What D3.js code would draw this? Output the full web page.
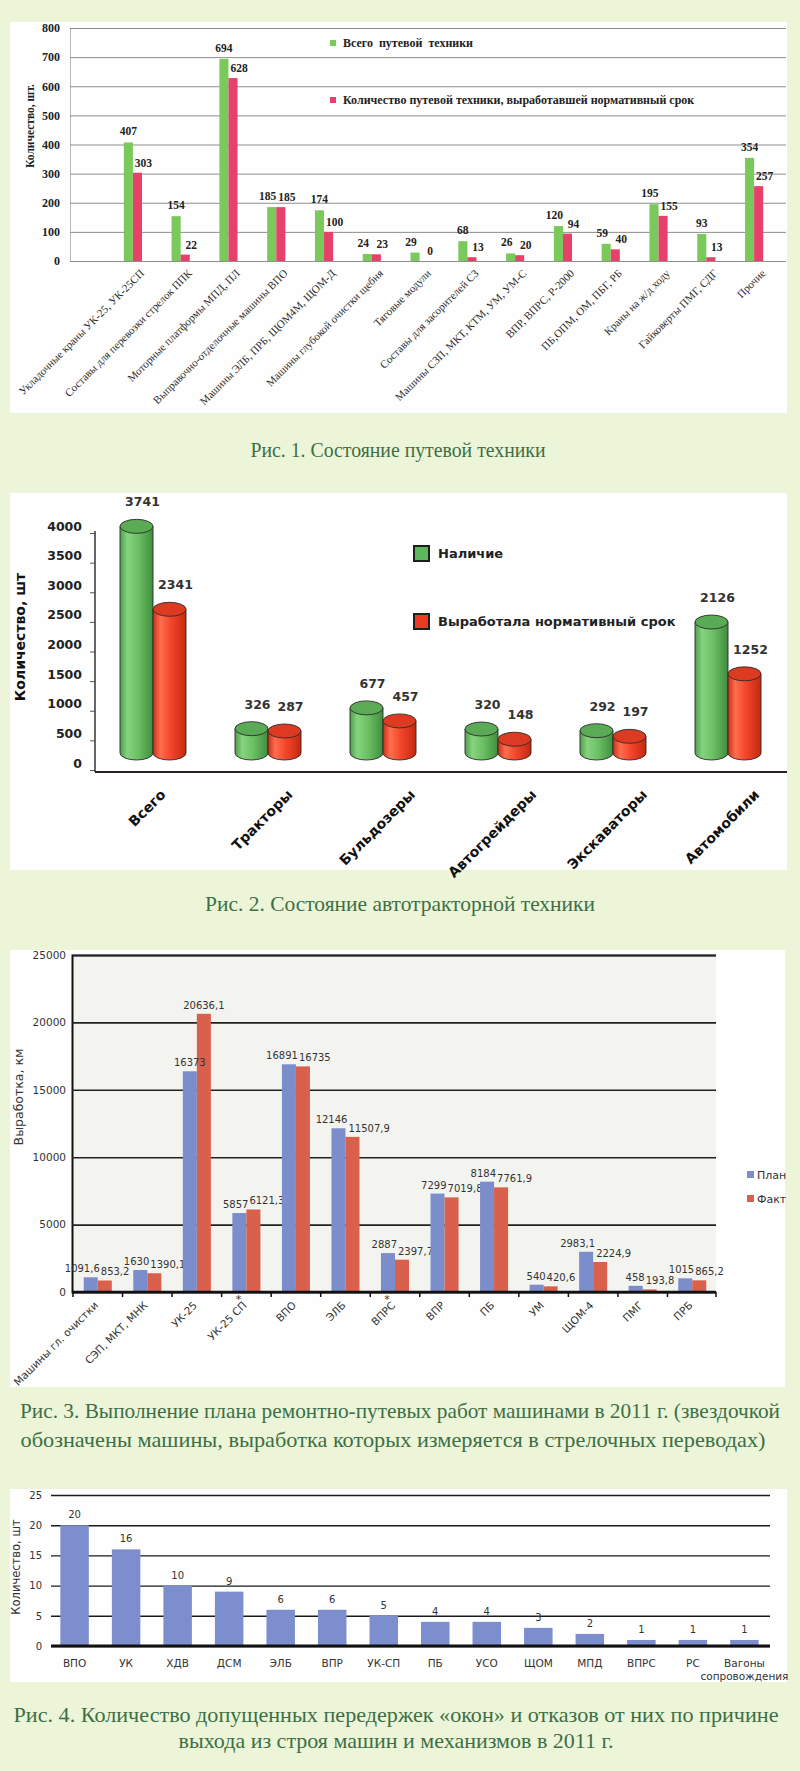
<!DOCTYPE html>
<html>
<head>
<meta charset="utf-8">
<script src="https://cdn.jsdelivr.net/npm/d3@7/dist/d3.min.js"></script>
<style>
    body {margin: 0; background: #edf5d9;}
    svg {display: block;}
</style>
</head>
<body>
<svg id="mainSvg" width="800" height="1771"></svg>
<script>
// ---------- Рис. 1 ----------
var fig1Categories = ["Укладочные краны УК-25, УК-25СП", "Составы для перевозки стрелок ППК", "Моторные платформы МПД, ПЛ",
    "Выправочно-отделочные машины ВПО", "Машины ЭЛБ, ПРБ, ЩОМ4М, ЩОМ-Д", "Машины глубокой очистки щебня", "Тяговые модули",
    "Составы для засорителей СЗ", "Машины СЗП, МКТ, КТМ, УМ, УМ-С", "ВПР, ВПРС, Р-2000", "ПБ,ОПМ, ОМ, ПБГ, РБ",
    "Краны на ж/д ходу", "Гайковерты ПМГ, СДГ", "Прочие"];
var fig1Total   = [407, 154, 694, 185, 174, 24, 29, 68, 26, 120, 59, 195, 93, 354];
var fig1Expired = [303, 22, 628, 185, 100, 23, 0, 13, 20, 94, 40, 155, 13, 257];
var fig1Ticks = [0, 100, 200, 300, 400, 500, 600, 700, 800];
var fig1Legend = ["Всего  путевой  техники", "Количество путевой техники, выработавшей нормативный срок"];

// ---------- Рис. 2 ----------
var fig2Categories = ["Всего", "Тракторы", "Бульдозеры", "Автогрейдеры", "Экскаваторы", "Автомобили"];
var fig2Available = [3741, 326, 677, 320, 292, 2126];
var fig2Expired   = [2341, 287, 457, 148, 197, 1252];
var fig2Ticks = [0, 500, 1000, 1500, 2000, 2500, 3000, 3500, 4000];
var fig2Legend = ["Наличие", "Выработала нормативный срок"];

// ---------- Рис. 3 ----------
var fig3Categories = ["Машины гл. очистки", "СЭП, МКТ, МНК", "УК-25", "УК-25 СП", "ВПО", "ЭЛБ", "ВПРС", "ВПР", "ПБ", "УМ", "ЩОМ-4", "ПМГ", "ПРБ"];
var fig3Starred = ["УК-25 СП", "ВПРС"];     // выработка в стрелочных переводах
var fig3Plan = [1091.6, 1630, 16373, 5857, 16891, 12146, 2887, 7299, 8184, 540, 2983.1, 458, 1015];
var fig3Fact = [853.2, 1390.1, 20636.1, 6121.3, 16735, 11507.9, 2397.7, 7019.8, 7761.9, 420.6, 2224.9, 193.8, 865.2];
var fig3Ticks = [0, 5000, 10000, 15000, 20000, 25000];
var fig3Legend = ["План", "Факт"];

// ---------- Рис. 4 ----------
var fig4Categories = ["ВПО", "УК", "ХДВ", "ДСМ", "ЭЛБ", "ВПР", "УК-СП", "ПБ", "УСО", "ЩОМ", "МПД", "ВПРС", "РС", "Вагоны сопровождения"];
var fig4Values = [20, 16, 10, 9, 6, 6, 5, 4, 4, 3, 2, 1, 1, 1];
var fig4Ticks = [0, 5, 10, 15, 20, 25];

var captionColor = "#3c6f45";
var serifFont = "'Liberation Serif', 'Times New Roman', serif";
var sansFont = "'DejaVu Sans', Verdana, sans-serif";

window.addEventListener("load", drawAll);

function drawAll()
{
    const svg = d3.select("#mainSvg");
    drawFig1(svg);
    drawFig2(svg);
    drawFig3(svg);
    drawFig4(svg);
    drawCaptions(svg);
}

/* white panel behind each chart */
function panel(svg, x, y, w, h)
{
    return svg.append("rect").attr("x", x).attr("y", y).attr("width", w).attr("height", h).attr("fill", "#fefefe");
}

function drawFig1(svg)
{
    panel(svg, 10, 22, 777, 391);
    const g = svg.append("g").attr("font-family", serifFont);
    const left = 70, right = 786;
    const yScale = d3.scaleLinear().domain([0, 800]).range([261, 28]);
    const xScale = d3.scaleBand().domain(fig1Categories).range([109, 778]).paddingInner(0.62).paddingOuter(0.31);
    const bw = xScale.bandwidth() / 2;

    const yAxisGroup = g.append("g").attr("transform", `translate(${left},0)`)
        .call(d3.axisLeft(yScale).tickValues(fig1Ticks).tickSize(-(right - left)).tickPadding(10));
    yAxisGroup.select(".domain").attr("stroke", "#b8b8b8");
    yAxisGroup.selectAll(".tick line").attr("stroke", "#8e8e8e").attr("stroke-width", 1);
    yAxisGroup.selectAll(".tick text").attr("font-family", serifFont).attr("font-size", 12)
        .attr("font-weight", "bold").attr("fill", "#222");

    g.append("text").text("Количество, шт.")
        .attr("transform", `translate(34,126) rotate(-90)`)
        .attr("text-anchor", "middle").attr("font-size", 11.5).attr("font-weight", "bold").attr("fill", "#222");

    const groups = g.selectAll(".grp").data(fig1Categories).join("g").attr("class", "grp");
    groups.append("rect")
        .attr("x", d => xScale(d)).attr("width", bw)
        .attr("y", (d, i) => yScale(fig1Total[i])).attr("height", (d, i) => yScale(0) - yScale(fig1Total[i]))
        .attr("fill", "#7ac95b");
    groups.append("rect")
        .attr("x", d => xScale(d) + bw).attr("width", bw)
        .attr("y", (d, i) => yScale(fig1Expired[i])).attr("height", (d, i) => yScale(0) - yScale(fig1Expired[i]))
        .attr("fill", "#e5416a");
    // labels of bars of nearly equal height are pushed apart
    const near = i => Math.abs(yScale(fig1Total[i]) - yScale(fig1Expired[i])) < 12;
    groups.append("text").text((d, i) => fig1Total[i])
        .attr("x", (d, i) => xScale(d) + bw / 2 - (near(i) ? 4 : 0)).attr("y", (d, i) => yScale(fig1Total[i]) - 7)
        .attr("text-anchor", "middle").attr("font-size", 11.5).attr("font-weight", "bold").attr("fill", "#222");
    groups.append("text").text((d, i) => fig1Expired[i])
        .attr("x", d => xScale(d) + bw * 1.5 + 6).attr("y", (d, i) => yScale(fig1Expired[i]) - 6)
        .attr("text-anchor", "middle").attr("font-size", 11.5).attr("font-weight", "bold").attr("fill", "#222");
    // category labels
    groups.append("text").text(d => d)
        .attr("transform", d => `translate(${xScale(d) + bw + 12},274) rotate(-45)`)
        .attr("text-anchor", "end").attr("font-size", 11).attr("fill", "#2a2a2a");

    // legend
    const colors = ["#7ac95b", "#e5416a"];
    const legend = g.selectAll(".leg").data(fig1Legend).join("g").attr("class", "leg")
        .attr("transform", (d, i) => `translate(330,${40 + i * 57})`);
    legend.append("rect").attr("width", 6).attr("height", 6).attr("fill", (d, i) => colors[i]);
    legend.append("text").text(d => d).attr("x", 13).attr("y", 7)
        .attr("font-size", 12).attr("font-weight", "bold").attr("fill", "#222").style("white-space", "pre");
}

function drawFig2(svg)
{
    panel(svg, 10, 493, 777, 377);
    const g = svg.append("g").attr("font-family", sansFont);
    const defs = svg.append("defs");
    function gradient(id, stops)
    {
        const gr = defs.append("linearGradient").attr("id", id).attr("x1", 0).attr("x2", 1).attr("y1", 0).attr("y2", 0);
        stops.forEach(s => gr.append("stop").attr("offset", s[0]).attr("stop-color", s[1]));
    }
    gradient("greenBody", [[0, "#4e9e4c"], [0.22, "#86d37f"], [0.55, "#6cc064"], [1, "#3f8d3d"]]);
    gradient("redBody", [[0, "#cc2e18"], [0.22, "#ff6e4e"], [0.55, "#f2452b"], [1, "#c3280f"]]);

    const yScale = d3.scaleLinear().domain([0, 4000]).range([763, 526]);
    const xScale = d3.scaleBand().domain(fig2Categories).range([95.5, 785.5]).paddingInner(0.426).paddingOuter(0.213);
    const cw = xScale.bandwidth() / 2, rx = cw / 2, ry = 7;
    const base = yScale(0) - 10;

    const yAxisGroup = g.append("g").attr("transform", "translate(95,0)")
        .call(d3.axisLeft(yScale).tickValues(fig2Ticks).tickFormat(d3.format("d")).tickSize(0).tickPadding(13));
    yAxisGroup.select(".domain").remove();
    yAxisGroup.selectAll(".tick text").attr("font-family", sansFont).attr("font-size", 12.5)
        .attr("font-weight", "bold").attr("fill", "#222");
    yAxisGroup.selectAll(".tick").append("line").attr("x1", -5).attr("x2", 0).attr("y1", 7).attr("y2", 7)
        .attr("stroke", "#555");
    g.append("line").attr("x1", 95).attr("x2", 95).attr("y1", 531).attr("y2", 772).attr("stroke", "#333").attr("stroke-width", 1.5);
    g.append("line").attr("x1", 95).attr("x2", 787).attr("y1", 772).attr("y2", 772).attr("stroke", "#2a2222").attr("stroke-width", 2);

    g.append("text").text("Количество, шт")
        .attr("transform", "translate(25,637) rotate(-90)")
        .attr("text-anchor", "middle").attr("font-size", 14).attr("font-weight", "bold").attr("fill", "#111");

    /* one cylinder */
    function cylinder(cx, value, body, top)
    {
        const yt = yScale(value) - 15;
        g.append("path")
            .attr("d", `M${cx - rx},${yt} L${cx - rx},${base} A${rx},${ry} 0 0 0 ${cx + rx},${base} L${cx + rx},${yt} Z`)
            .attr("fill", body).attr("stroke", "#2b2b2b").attr("stroke-width", 0.9);
        g.append("ellipse").attr("cx", cx).attr("cy", yt).attr("rx", rx).attr("ry", ry)
            .attr("fill", top).attr("stroke", "#2b2b2b").attr("stroke-width", 0.9);
        g.append("text").text(value).attr("x", cx + 6).attr("y", yt - ry - 13)
            .attr("text-anchor", "middle").attr("font-size", 12.5).attr("font-weight", "bold").attr("fill", "#333");
    }
    fig2Categories.forEach((c, i) => {
        cylinder(xScale(c) + rx, fig2Available[i], "url(#greenBody)", "#5aaa56");
        cylinder(xScale(c) + cw + rx, fig2Expired[i], "url(#redBody)", "#dd3a22");
    });

    // category labels: bounding box top fixed, centred on the group
    fig2Categories.forEach(c => {
        const t = g.append("text").text(c).attr("text-anchor", "middle")
            .attr("font-size", 14).attr("font-weight", "bold").attr("fill", "#111");
        const len = t.node().getComputedTextLength();
        const half = (len * 0.707 + 14 * 0.707) / 2;
        t.attr("transform", `translate(${xScale(c) + cw - 6},${787 + half}) rotate(-45) translate(0,5)`);
    });

    // legend
    const colors = ["#5cb85a", "#ee3a22"];
    const legend = g.selectAll(".leg2").data(fig2Legend).join("g").attr("class", "leg2")
        .attr("transform", (d, i) => `translate(414,${546 + i * 68})`);
    legend.append("rect").attr("width", 15).attr("height", 15).attr("fill", (d, i) => colors[i])
        .attr("stroke", "#1e1e1e").attr("stroke-width", 2);
    legend.append("text").text(d => d).attr("x", 24).attr("y", 12)
        .attr("font-size", 13).attr("font-weight", "bold").attr("fill", "#222");
}

function drawFig3(svg)
{
    panel(svg, 10, 950, 775, 437);
    const g = svg.append("g").attr("font-family", sansFont);
    const left = 72, right = 716;
    const yScale = d3.scaleLinear().domain([0, 25000]).range([1292, 955]);
    const xScale = d3.scaleBand().domain(fig3Categories).range([73, 717]).paddingInner(0.434).paddingOuter(0.217);
    const bw = xScale.bandwidth() / 2;
    const fmt = v => String(v).replace(".", ",");

    g.append("rect").attr("x", left).attr("y", yScale(25000)).attr("width", right - left)
        .attr("height", yScale(0) - yScale(25000)).attr("fill", "#f3f3f0");
    const yAxisGroup = g.append("g").attr("transform", `translate(${left},0)`)
        .call(d3.axisLeft(yScale).tickValues(fig3Ticks).tickFormat(d3.format("d")).tickSize(-(right - left)).tickPadding(6));
    yAxisGroup.select(".domain").attr("stroke", "#111").attr("stroke-width", 2);
    yAxisGroup.selectAll(".tick line").attr("stroke", "#222").attr("stroke-width", 1.6);
    yAxisGroup.selectAll(".tick text").attr("font-family", sansFont).attr("font-size", 10.5).attr("fill", "#333");

    g.append("text").text("Выработка, км")
        .attr("transform", "translate(23,1097) rotate(-90)")
        .attr("text-anchor", "middle").attr("font-size", 12.5).attr("fill", "#333");

    const groups = g.selectAll(".grp3").data(fig3Categories).join("g").attr("class", "grp3");
    groups.append("rect")
        .attr("x", d => xScale(d)).attr("width", bw)
        .attr("y", (d, i) => yScale(fig3Plan[i])).attr("height", (d, i) => yScale(0) - yScale(fig3Plan[i]))
        .attr("fill", "#7b8dcb");
    groups.append("rect")
        .attr("x", d => xScale(d) + bw).attr("width", bw)
        .attr("y", (d, i) => yScale(fig3Fact[i])).attr("height", (d, i) => yScale(0) - yScale(fig3Fact[i]))
        .attr("fill", "#d8604c");
    // value labels: side by side when the bars are of similar height
    const near = i => Math.abs(yScale(fig3Plan[i]) - yScale(fig3Fact[i])) < 13;
    groups.append("text").text((d, i) => fmt(fig3Plan[i]))
        .attr("x", (d, i) => near(i) ? xScale(d) + bw + 2 : xScale(d) + bw / 2)
        .attr("text-anchor", (d, i) => near(i) ? "end" : "middle")
        .attr("y", (d, i) => yScale(fig3Plan[i]) - 5)
        .attr("font-size", 10).attr("fill", "#333");
    groups.append("text").text((d, i) => fmt(fig3Fact[i]))
        .attr("x", (d, i) => near(i) ? xScale(d) + bw + 3 : xScale(d) + bw * 1.5)
        .attr("text-anchor", (d, i) => near(i) ? "start" : "middle")
        .attr("y", (d, i) => yScale(fig3Fact[i]) - 5)
        .attr("font-size", 10).attr("fill", "#333");

    // x axis with ticks between categories
    g.append("line").attr("x1", left).attr("x2", right).attr("y1", yScale(0)).attr("y2", yScale(0))
        .attr("stroke", "#111").attr("stroke-width", 2.5);
    const gap = (xScale.step() - xScale.bandwidth()) / 2;
    const bounds = fig3Categories.map(c => xScale(c) - gap).concat([right]);
    g.selectAll(".xt3").data(bounds).join("line").attr("class", "xt3")
        .attr("x1", d => d).attr("x2", d => d).attr("y1", yScale(0)).attr("y2", yScale(0) + 5)
        .attr("stroke", "#111").attr("stroke-width", 1.5);
    groups.append("text").text(d => d)
        .attr("transform", d => `translate(${xScale(d) + bw + 1},1306) rotate(-45)`)
        .attr("text-anchor", "end").attr("font-size", 10.5).attr("fill", "#333");
    groups.filter(d => fig3Starred.includes(d)).append("text").text("*")
        .attr("x", d => xScale(d) + bw - 8).attr("y", 1303)
        .attr("text-anchor", "middle").attr("font-size", 11).attr("fill", "#333");

    // legend
    const colors = ["#7b8dcb", "#d8604c"];
    const legend = g.selectAll(".leg3").data(fig3Legend).join("g").attr("class", "leg3")
        .attr("transform", (d, i) => `translate(747,${1171 + i * 24})`);
    legend.append("rect").attr("width", 7).attr("height", 7).attr("fill", (d, i) => colors[i]);
    legend.append("text").text(d => d).attr("x", 10).attr("y", 7.5).attr("font-size", 11).attr("fill", "#333");
}

function drawFig4(svg)
{
    panel(svg, 10, 1489, 777, 193);
    const g = svg.append("g").attr("font-family", sansFont);
    const left = 51, right = 770;
    const yScale = d3.scaleLinear().domain([0, 25]).range([1646, 1495]);
    const xScale = d3.scaleBand().domain(fig4Categories).range([49, 770]).paddingInner(0.447).paddingOuter(0.22);

    const yAxisGroup = g.append("g").attr("transform", `translate(${left},0)`)
        .call(d3.axisLeft(yScale).tickValues(fig4Ticks).tickSize(-(right - left)).tickPadding(9));
    yAxisGroup.select(".domain").remove();
    yAxisGroup.selectAll(".tick line").attr("stroke", "#1a1a1a").attr("stroke-width", 1.4);
    yAxisGroup.selectAll(".tick text").attr("font-family", sansFont).attr("font-size", 10).attr("fill", "#333");

    g.append("text").text("Количество, шт")
        .attr("transform", "translate(20,1567) rotate(-90)")
        .attr("text-anchor", "middle").attr("font-size", 11.5).attr("fill", "#333");

    const groups = g.selectAll(".grp4").data(fig4Categories).join("g").attr("class", "grp4");
    groups.append("rect")
        .attr("x", d => xScale(d)).attr("width", xScale.bandwidth())
        .attr("y", (d, i) => yScale(fig4Values[i])).attr("height", (d, i) => yScale(0) - yScale(fig4Values[i]))
        .attr("fill", "#7d8ecf");
    groups.append("text").text((d, i) => fig4Values[i])
        .attr("x", d => xScale(d) + xScale.bandwidth() / 2).attr("y", (d, i) => yScale(fig4Values[i]) - 7)
        .attr("text-anchor", "middle").attr("font-size", 10).attr("fill", "#333");
    g.append("line").attr("x1", left).attr("x2", right).attr("y1", yScale(0)).attr("y2", yScale(0))
        .attr("stroke", "#111").attr("stroke-width", 3);
    groups.append("text")
        .attr("x", d => xScale(d) + xScale.bandwidth() / 2).attr("y", 1667)
        .attr("text-anchor", "middle").attr("font-size", 10.5).attr("fill", "#333")
        .selectAll("tspan").data(d => d.split(" ")).join("tspan")
        .attr("x", function () { return this.parentNode.getAttribute("x"); })
        .attr("dy", (d, i) => i === 0 ? 0 : 13)
        .text(d => d);
}

function drawCaptions(svg)
{
    const captions = [
        {text: "Рис. 1. Состояние путевой техники", x: 398, y: 457, w: 295},
        {text: "Рис. 2. Состояние автотракторной техники", x: 400, y: 911, w: 390},
        {text: "Рис. 3. Выполнение плана ремонтно-путевых работ машинами в 2011 г. (звездочкой", x: 400, y: 1418, w: 760},
        {text: "обозначены машины, выработка которых измеряется в стрелочных переводах)", x: 393, y: 1447, w: 745},
        {text: "Рис. 4. Количество допущенных передержек «окон» и отказов от них по причине", x: 396, y: 1722, w: 765},
        {text: "выхода из строя машин и механизмов в 2011 г.", x: 396, y: 1748, w: 435}
    ];
    svg.selectAll(".caption").data(captions).join("text").attr("class", "caption")
        .text(d => d.text)
        .attr("x", d => d.x).attr("y", d => d.y)
        .attr("text-anchor", "middle")
        .attr("textLength", d => d.w).attr("lengthAdjust", "spacingAndGlyphs")
        .attr("font-family", serifFont).attr("font-size", 21).attr("fill", captionColor);
}
</script>
</body>
</html>
